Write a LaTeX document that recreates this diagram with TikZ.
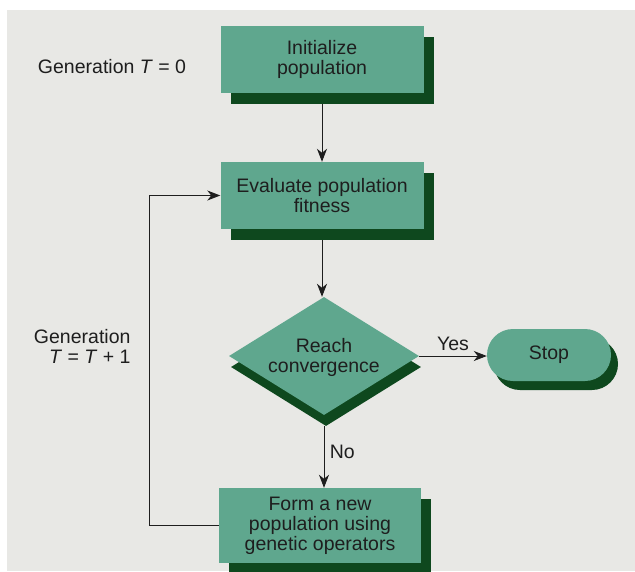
\documentclass[tikz,border=0pt]{standalone}
\usepackage{fontspec}
\setmainfont{Liberation Sans}
\usetikzlibrary{shapes.geometric,shadows,arrows.meta}
\definecolor{boxgreen}{RGB}{95,167,142}
\definecolor{shadegreen}{RGB}{14,72,30}
\definecolor{paper}{RGB}{232,232,229}
\definecolor{ink}{RGB}{30,30,30}

\begin{document}
\begin{tikzpicture}[x=1pt,y=-1pt,
    every node/.style={font=\fontsize{19.5}{20}\selectfont,text=ink},
    box/.style={rectangle,fill=boxgreen,minimum width=203pt,minimum height=67pt,inner sep=0pt,align=center,
      drop shadow={shadow xshift=10pt,shadow yshift=-11pt,fill=shadegreen,opacity=1}},
    decision/.style={diamond,fill=boxgreen,minimum width=190pt,minimum height=118pt,inner sep=0pt,
      drop shadow={shadow xshift=2pt,shadow yshift=-11pt,fill=shadegreen,opacity=1}},
    terminal/.style={rectangle,rounded corners=26pt,fill=boxgreen,minimum width=124pt,minimum height=52pt,inner sep=0pt,
      drop shadow={shadow xshift=7pt,shadow yshift=-9pt,fill=shadegreen,opacity=1}},
    arr/.style={draw=ink,line width=1pt,-{Stealth[length=13pt,width=10pt,inset=4pt]}}]
  \useasboundingbox (0,0) rectangle (635,571);
  \fill[white] (0,0) rectangle (635,571);
  \fill[paper] (7,10) rectangle (635,571);

  \node[box] (init) at (322,59.5) {Initialize\\population};
  \node[box] (eval) at (322,195.5) {Evaluate population\\fitness};
  \node[decision] (conv) at (324,356) {};
  \node (convtext) at (324,357) [align=center] {Reach\\convergence};
  \node[terminal] (stop) at (549,355) {Stop};
  \node[box,minimum width=202pt,minimum height=75pt] (form) at (320,525.5) {Form a new\\population using\\genetic operators};

  \draw[arr,shorten <=11pt] (init) -- (eval);
  \draw[arr,shorten <=11pt] (eval.south) -- (eval.south |- conv.north);
  \draw[arr,shorten <=11pt] (conv.south) -- node[right,xshift=2pt] (no) {No} (conv.south |- form.north);
  \draw[arr] (conv.east) -- node[above,yshift=1pt] (yes) {Yes} (conv.east -| stop.west);
  \draw[arr] (form.west) -- ++(-69,0) |- (eval.west);

  \node (gen0) at (112,67) {Generation \textit{T} = 0};
  \node[align=right,anchor=east] (gen1) at (134,346) {Generation\\\textit{T} = \textit{T} + 1};
\end{tikzpicture}
\end{document}
